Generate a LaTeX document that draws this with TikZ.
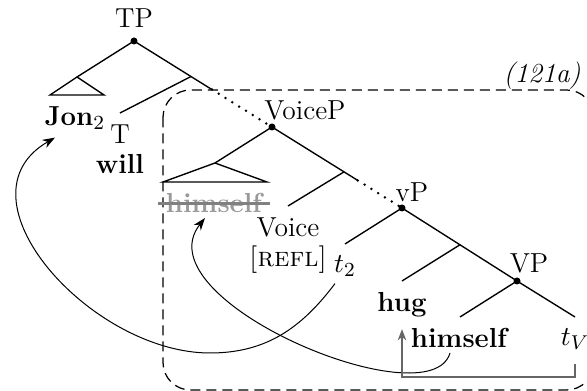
\documentclass[tikz,border=0pt]{standalone}
\usetikzlibrary{calc,arrows.meta}
\tikzset{
  every node/.style={font=\fontsize{11}{12}\selectfont},
  branch/.style={line width=0.55pt},
  dotline/.style={line width=1.1pt,line cap=round,dash pattern=on 0pt off 3.2pt},
  treedot/.style={circle,fill,inner sep=0pt,minimum size=2.8pt},
  leaf/.style={anchor=north,inner xsep=1pt,inner ysep=4.5pt,align=center},
  movearrow/.style={line width=0.4pt,-{Stealth[length=5pt,width=3.6pt,inset=1.6pt]}},
  headarrow/.style={black!60,line width=0.6pt,-{Stealth[length=4.5pt,width=3.4pt,inset=1.4pt]}},
  exbox/.style={dash pattern=on 4pt off 2.4pt,line width=0.5pt,rounded corners=11pt},
}
\begin{document}
\begin{tikzpicture}[x=0.4pt,y=-0.4pt]
  \useasboundingbox (0,0) rectangle (587,391);
  % the (121a) part
  \draw[exbox] (163,90) rectangle (594,390);
  \node[font=\fontsize{11}{12}\selectfont\itshape] (ex) at (542,76) {(121a)};

  % phrase nodes
  \coordinate (tp) at (134,41);
  \coordinate (voicep) at (272,127);
  \coordinate (vp) at (402,208);
  \coordinate (vpp) at (517,281);
  \coordinate (jontri) at (77,77);
  \coordinate (strktri) at (215,163);
  \foreach \p in {tp,voicep,vp,vpp} \node[treedot] at (\p) {};

  \node (tplab) at (134,18) {TP};
  \node (voiceplab) at (305,110) {VoiceP};
  \node (vplab) at (412,192) {vP};
  \node (vpplab) at (529,263) {VP};

  % leaves
  \node[leaf] (jon) at (75,95) {\textbf{Jon}$_2$};
  \node[leaf] (t) at (120,113) {T\\\textbf{will}};
  \node[leaf,text=black!40] (strk) at (215,182) {\textbf{himself}};
  \node[leaf] (voice) at (288,206) {Voice\\\textsc{[refl]}};
  \node[leaf] (t2) at (345,244) {$t_2$};
  \node[leaf] (hug) at (402,281) {\textbf{hug}};
  \node[leaf] (himself) at (460,317) {\textbf{himself}};
  \node[leaf] (tv) at (575,317) {$t_V$};
  \draw[black!50,line width=1.5pt] ([xshift=-2pt]strk.west) -- ([xshift=1pt]strk.east);

  % branches
  \draw[branch] (tp) -- (jontri);
  \draw[branch] (jontri) -- ++(-27,18) -- ++(54,0) -- cycle;
  \draw[branch] (tp) -- ($(tp)!0.565!(voicep)$) coordinate (cut1);
  \draw[dotline] (cut1) -- (voicep);
  \draw[branch] ($(tp)!0.413!(voicep)$) -- (t.north);
  \draw[branch] (voicep) -- (strktri);
  \draw[branch] (strktri) -- ++(-52,19) -- ++(104,0) -- cycle;
  \draw[branch] (voicep) -- ($(voicep)!0.66!(vp)$) coordinate (cut2);
  \draw[dotline] (cut2) -- (vp);
  \draw[branch] ($(voicep)!0.554!(vp)$) -- (voice.north);
  \draw[branch] (vp) -- (t2.north);
  \draw[branch] (vp) -- (vpp);
  \draw[branch] ($(vp)!0.504!(vpp)$) -- (hug.north);
  \draw[branch] (vpp) -- (himself.north);
  \draw[branch] (vpp) -- (tv.north);

  % movement
  \coordinate (low) at (210,353);
  \draw[movearrow] ([shift={(-10,11)}]t2.base) to[out=-127,in=0] (low)
    to[out=180,in=-150,looseness=1.15] ([shift={(-20,12)}]jon.base);
  \draw[movearrow] ([shift={(-10,5)}]himself.base) .. controls +(-20,68) and +(-65,82) .. ([shift={(-10,5)}]strk.base);
  \coordinate (vbot) at (488,377);
  \draw[headarrow,shorten <=1pt] (tv.south) |- (vbot) -| (hug.south);
\end{tikzpicture}
\end{document}
